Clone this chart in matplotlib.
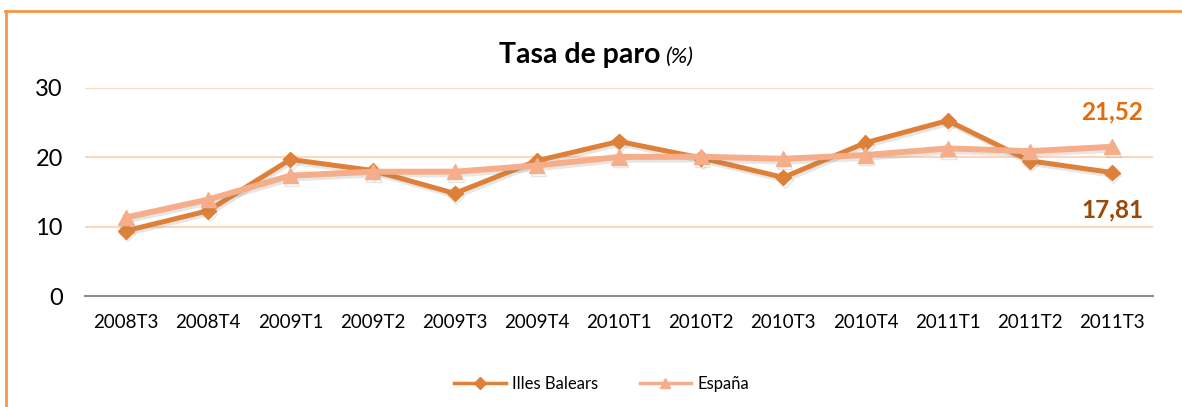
import matplotlib
matplotlib.use("Agg")
import matplotlib.pyplot as plt
import matplotlib.patheffects as pe
from matplotlib.lines import Line2D

plt.rcParams['font.family'] = ['Lato', 'DejaVu Sans']

# data
trimestres = ['2008T3', '2008T4', '2009T1', '2009T2', '2009T3', '2009T4', '2010T1',
              '2010T2', '2010T3', '2010T4', '2011T1', '2011T2', '2011T3']
balears = [9.4, 12.3, 19.7, 18.1, 14.8, 19.5, 22.3, 19.9, 17.1, 22.1, 25.3, 19.5, 17.81]
espana = [11.33, 13.91, 17.36, 17.92, 17.93, 18.83, 20.05, 20.09, 19.79, 20.33, 21.29, 20.89, 21.52]
yticks = [0, 10, 20, 30]

c_bal = '#DF8038'
c_esp = '#F6AE8A'
c_grid = '#FBD7BD'

fig = plt.figure(figsize=(11.82, 4.07), dpi=100)
ax = fig.add_axes([0.0719, 0.2727, 0.9036, 0.5111])

x = list(range(len(trimestres)))
shadow = [pe.SimpleLineShadow(offset=(1, -2), shadow_color='#777777', alpha=0.18), pe.Normal()]

ax.plot(x, balears, color=c_bal, lw=3.6, marker='D', ms=8, zorder=3,
        path_effects=shadow)
ax.plot(x, espana, color=c_esp, lw=4.3, marker='^', ms=11, zorder=4,
        path_effects=shadow)

ax.set_xlim(-0.5, len(trimestres) - 0.5)
ax.set_ylim(0, 30)
ax.set_yticks(yticks)
ax.set_xticks(x)
ax.set_xticklabels(trimestres)
ax.tick_params(axis='both', length=0)
ax.tick_params(axis='x', labelsize=13.5, pad=13)
ax.tick_params(axis='y', labelsize=17, pad=16)
for t in yticks[1:]:
    ax.axhline(t, color=c_grid, lw=1.5, zorder=1)
for s in ['top', 'right', 'left']:
    ax.spines[s].set_visible(False)
ax.spines['bottom'].set_color('#8C8C8C')
ax.spines['bottom'].set_linewidth(1.5)

# end labels
ax.annotate(f"{espana[-1]:.2f}".replace('.', ','), (x[-1], espana[-1]), xytext=(0, 25),
            textcoords='offset points', ha='center', va='center',
            color='#E46C0A', fontsize=17.5, fontweight='bold')
ax.annotate(f"{balears[-1]:.2f}".replace('.', ','), (x[-1], balears[-1]), xytext=(0, -27),
            textcoords='offset points', ha='center', va='center',
            color='#984807', fontsize=17.5, fontweight='bold')

# title
fig.text(0.559, 0.865, 'Tasa de paro', ha='right', va='center', fontsize=20.5,
         fontweight='bold', color='black')
fig.text(0.563, 0.860, '(%)', ha='left', va='center', fontsize=16,
         fontstyle='italic', color='black')

# legend
handles = [Line2D([], [], color=c_bal, lw=2.5, marker='D', ms=6),
           Line2D([], [], color=c_esp, lw=2.5, marker='^', ms=7)]
fig.legend(handles, ['Illes Balears', 'España'], loc='center', ncol=2,
           bbox_to_anchor=(0.509, 0.057), frameon=False, fontsize=12,
           handlelength=3.1, columnspacing=2.5, handletextpad=0.35)

# frame (top and left borders)
fig.add_artist(Line2D([0.0042, 1.0], [0.973, 0.973], color='#F79646', lw=2,
                      transform=fig.transFigure))
fig.add_artist(Line2D([0.0050, 0.0050], [0.0, 0.973], color='#F79646', lw=2,
                      transform=fig.transFigure))

fig.savefig('out.png', dpi=100)
